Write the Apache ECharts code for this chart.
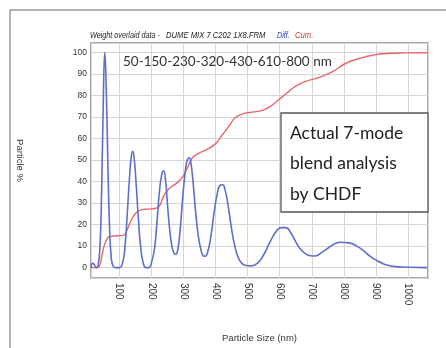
<!DOCTYPE html>
<html>
<head>
<meta charset="utf-8">
<script src="https://cdn.jsdelivr.net/npm/echarts@6/dist/echarts.min.js"></script>
<style>
  html, body { margin: 0; padding: 0; background: #fff; }
  #chart { width: 446px; height: 348px; }
</style>
</head>
<body>
<div id="chart"></div>
<script>
// Diff. curve (blue)
var diffX = [12, 17, 22, 28, 34, 40, 45, 50, 55, 60, 65, 70, 75, 80, 88, 100,
    110, 118, 125, 132, 138, 142, 147, 153, 160, 167, 175, 183, 192,
    200, 210, 218, 225, 232, 238, 244, 250, 257, 264, 270, 276,
    282, 290, 298, 306, 312, 318, 324, 331, 338, 346, 355, 362, 368,
    375, 385, 395, 405, 413, 422, 430, 440, 450, 460, 470, 482, 495, 510,
    530, 550, 570, 590, 605, 619, 635, 650, 665, 680, 695, 711,
    730, 750, 770, 790, 817, 840, 860, 880, 900, 920, 940, 960, 980, 1000, 1060];
var diffY = [0, 2, 1.5, 0, 1, 10, 35, 75, 100, 80, 45, 18, 5, 1, 0, 0,
    2, 10, 25, 42, 52, 54, 50, 38, 22, 9, 2, 0, 0,
    2, 9, 22, 35, 43, 45, 41, 30, 18, 10, 7, 6.2,
    8, 18, 33, 45, 50, 51, 48, 38, 26, 15, 8, 5.5, 5.3,
    7, 14, 25, 34, 38, 38.5, 36, 28, 18, 10, 5, 2, 1, 0.8,
    2, 6, 12, 17, 18.6, 18.6, 16, 12, 8.5, 6.5, 5.5, 5.4,
    7, 9, 11, 11.8, 11.5, 10, 8, 5.5, 3.5, 2, 1, 0.5, 0.3, 0.2, 0];

// Cum. curve (red)
var cumX = [12, 30, 38, 45, 55, 65, 72, 95, 116, 121, 136, 152, 168, 190, 214,
    225, 240, 256, 277, 297, 313, 328, 349, 375, 401, 422, 443, 463, 489,
    515, 546, 567, 593, 624, 650, 681, 723, 765, 806, 848, 889, 931, 993, 1062];
var cumY = [0, 0, 0.5, 5, 11, 14, 14.5, 14.8, 15.2, 16.3, 21.6, 25.4, 26.8, 27.2, 27.6,
    28.6, 33.8, 36.8, 39, 42, 46.5, 51, 53.2, 55, 57.7, 61.8, 66, 69.8, 71.6,
    72.2, 73, 74.5, 77.5, 81.3, 84.3, 86.5, 88.3, 91, 94.9, 97.1, 98.6, 99.4, 99.7, 99.8];

var modeText = '50-150-230-320-430-610-800 nm';
var boxLines = ['Actual 7-mode', 'blend analysis', 'by CHDF'];

var sans = '"Liberation Sans", Arial, sans-serif';

function pairs(xs, ys) {
    return xs.map(function (x, i) { return [x, ys[i]]; });
}

// condensed italic title piece
function titlePiece(txt, x, sx, color) {
    return {
        type: 'text', x: x, y: 35, scaleX: sx,
        style: {
            text: txt, font: 'italic 9px ' + sans, fill: color,
            verticalAlign: 'middle'
        }
    };
}

var myChart = echarts.init(document.getElementById('chart'));

var option = {
    backgroundColor: '#fff',
    animation: false,
    grid: {
        left: 91, top: 43, right: 18, bottom: 65,
        show: true, borderColor: '#8a8a8a', borderWidth: 1.5
    },
    xAxis: {
        type: 'value',
        min: 12, max: 1062,
        splitNumber: 10,
        name: 'Particle Size (nm)',
        nameLocation: 'middle',
        nameGap: 55,
        nameTextStyle: { fontFamily: sans, fontSize: 9.5, color: '#333' },
        axisLine: { show: false },
        axisTick: { show: false },
        axisLabel: {
            rotate: -90, margin: 5,
            fontFamily: sans, fontSize: 10, color: '#333',
            showMinLabel: false, showMaxLabel: false,
            formatter: function (v) { return v % 100 === 0 ? String(v) : ''; }
        },
        splitLine: { show: true, lineStyle: { color: '#d6d6d6', width: 1 } }
    },
    yAxis: {
        type: 'value',
        min: -4.8, max: 104.3,
        splitNumber: 11,
        name: 'Particle %',
        nameLocation: 'middle',
        nameRotate: -90,
        nameGap: 66,
        nameTextStyle: { fontFamily: sans, fontSize: 9.5, color: '#333' },
        axisLine: { show: false },
        axisTick: { show: false },
        axisLabel: {
            margin: 4,
            fontFamily: sans, fontSize: 8.5, color: '#333',
            showMinLabel: false, showMaxLabel: false,
            formatter: function (v) { return v % 10 === 0 ? String(v) : ''; }
        },
        splitLine: { show: true, lineStyle: { color: '#d6d6d6', width: 1 } }
    },
    series: [
        {
            name: 'Diff.',
            type: 'line',
            data: pairs(diffX, diffY),
            smooth: 0.5,
            showSymbol: false,
            lineStyle: { color: '#5f6ecb', width: 1.6 },
            z: 3
        },
        {
            name: 'Cum.',
            type: 'line',
            data: pairs(cumX, cumY),
            smooth: 0.5,
            showSymbol: false,
            lineStyle: { color: '#e8676d', width: 1.4 },
            z: 2
        }
    ],
    graphic: [
        {
            type: 'polyline',
            shape: { points: [[10, 348], [10, 10], [446, 10]] },
            style: { stroke: '#9a9a9a', lineWidth: 1.5, fill: null }
        },
        titlePiece('Weight overlaid data -', 90, 0.8, '#222'),
        titlePiece('DUME MIX 7 C202 1X8.FRM', 166, 0.85, '#222'),
        titlePiece('Diff.', 277, 0.8, '#2f3fc0'),
        titlePiece('Cum.', 295, 0.85, '#d8323a'),
        {
            type: 'text', left: 123, top: 55, z: 10,
            style: { text: modeText, font: '13.5px Lato, "Open Sans", sans-serif', fill: '#333' }
        },
        {
            type: 'rect', z: 10,
            shape: { x: 281, y: 113, width: 147, height: 99 },
            style: { fill: '#fff', stroke: '#555', lineWidth: 1.3 }
        },
        {
            type: 'text', left: 290, top: 118, z: 11,
            style: {
                text: boxLines.join('\n'),
                font: '17.5px Lato, "Open Sans", sans-serif',
                lineHeight: 30.5,
                fill: '#222'
            }
        }
    ]
};

myChart.setOption(option);

window.addEventListener('resize', function () {
    myChart.resize();
});
</script>
</body>
</html>
